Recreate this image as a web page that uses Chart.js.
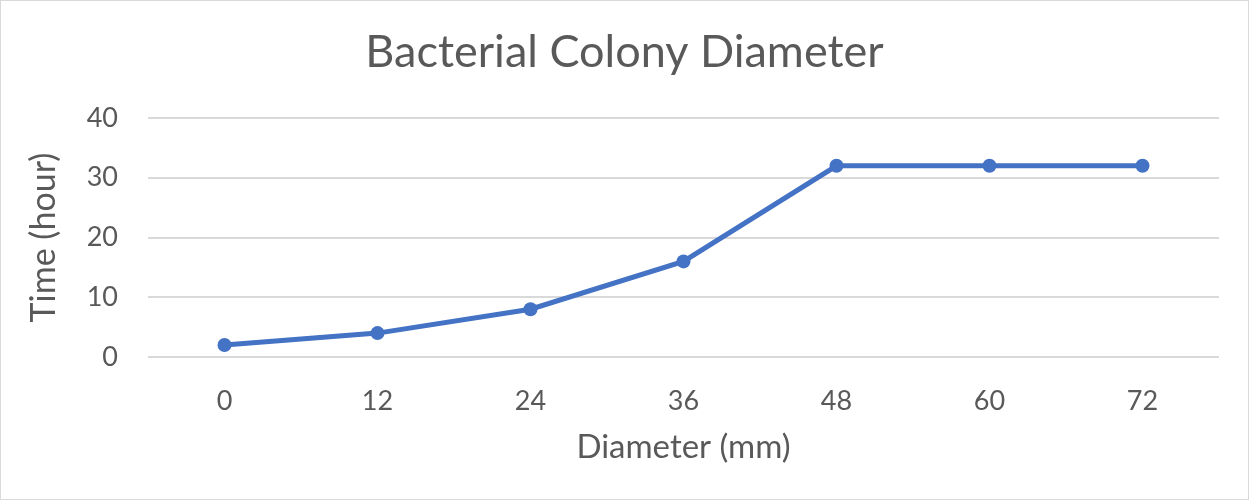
<!DOCTYPE html>
<html>
<head>
<meta charset="utf-8">
<script src="https://cdn.jsdelivr.net/npm/chart.js@4"></script>
<style>
    html, body { margin: 0; padding: 0; background: #fff; }
    #wrap { width: 1249px; height: 500px; }
</style>
</head>
<body>
<div id="wrap"><canvas id="colonyChart" width="1249" height="500"></canvas></div>
<script>
// Data
const diameters = ['0', '12', '24', '36', '48', '60', '72'];
const hours = [2, 4, 8, 16, 32, 32, 32];
const yTicks = [0, 10, 20, 30, 40];

const colors = {
    line: '#4472c4',
    text: '#595959',
    grid: '#d9d9d9',
    border: '#d9d9d9'
};
const fontFamily = 'Lato, "Open Sans", sans-serif';

// white background + thin frame like the office export
const framePlugin = {
    id: 'frame',
    beforeDraw(chart) {
        const c = chart.ctx;
        c.save();
        c.fillStyle = '#fff';
        c.fillRect(0, 0, chart.width, chart.height);
        c.strokeStyle = colors.border;
        c.lineWidth = 1;
        c.strokeRect(0.5, 0.5, chart.width - 1, chart.height - 1);
        c.restore();
    }
};

const ctx = document.getElementById('colonyChart').getContext('2d');
new Chart(ctx, {
    type: 'line',
    data: {
        labels: diameters,
        datasets: [{
            label: 'Time',
            data: hours,
            borderColor: colors.line,
            backgroundColor: colors.line,
            borderWidth: 5,
            pointRadius: 7,
            pointHoverRadius: 7,
            pointBorderWidth: 0,
            tension: 0
        }]
    },
    options: {
        responsive: false,
        animation: false,
        layout: {
            padding: { left: 0, right: 0, top: 0, bottom: 30 }
        },
        scales: {
            x: {
                offset: true,
                grid: { display: false, drawTicks: false },
                border: { display: false },
                ticks: {
                    color: colors.text,
                    font: { family: fontFamily, size: 27 },
                    padding: 28
                },
                title: {
                    display: true,
                    text: 'Diameter (mm)',
                    color: colors.text,
                    font: { family: fontFamily, size: 33 },
                    padding: { top: 4, bottom: 3 }
                },
                afterFit(scale) { scale.height = 113; }
            },
            y: {
                min: 0,
                max: 40,
                afterBuildTicks(scale) {
                    scale.ticks = yTicks.map(v => ({ value: v }));
                },
                grid: {
                    color: colors.grid,
                    lineWidth: 2,
                    drawTicks: false
                },
                border: { display: false },
                ticks: {
                    color: colors.text,
                    font: { family: fontFamily, size: 27 },
                    padding: 30
                },
                title: {
                    display: true,
                    text: 'Time (hour)',
                    color: colors.text,
                    font: { family: fontFamily, size: 34 },
                    padding: { top: 24, bottom: 0 }
                },
                afterFit(scale) { scale.width = 148; }
            },
            // empty right gutter so the chart title stays centred on the canvas
            gutter: {
                type: 'linear',
                position: 'right',
                grid: { display: false, drawTicks: false },
                border: { display: false },
                ticks: { display: false },
                afterFit(scale) { scale.width = 30; }
            }
        },
        plugins: {
            legend: { display: false },
            tooltip: { enabled: false },
            title: {
                display: true,
                text: 'Bacterial Colony Diameter',
                color: colors.text,
                font: { family: fontFamily, size: 45, weight: 'normal' },
                padding: { top: 25, bottom: 39 }
            }
        }
    },
    plugins: [framePlugin]
});
</script>
</body>
</html>
